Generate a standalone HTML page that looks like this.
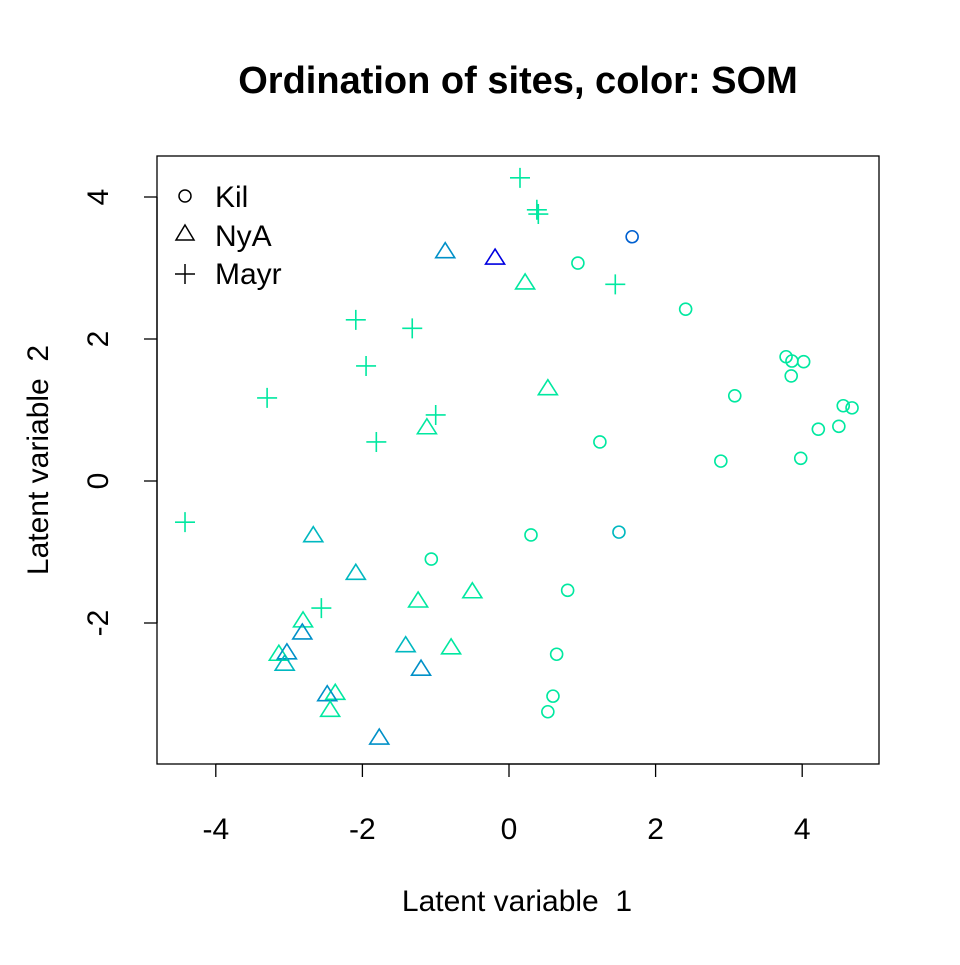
<!DOCTYPE html>
<html><head><meta charset="utf-8"><style>
body{margin:0;background:#fff}
svg text{font-family:"Liberation Sans",Arial,sans-serif;fill:#000;white-space:pre}
</style></head><body>
<svg id="c" width="960" height="960">
<rect width="960" height="960" fill="#fff"/>
<text x="518" y="93" font-size="38" font-weight="bold" text-anchor="middle">Ordination of sites, color: SOM</text>
<rect x="157" y="156" width="722" height="608" fill="none" stroke="#000" stroke-width="1.3"/>
<g id="axes"></g>
<g id="pts"></g>
<text x="517" y="911" font-size="30" text-anchor="middle">Latent variable  1</text>
<text transform="translate(48,460) rotate(-90)" font-size="30" text-anchor="middle">Latent variable  2</text>
<g>
<circle cx="185" cy="196" r="6" fill="none" stroke="#000" stroke-width="1.5"/>
<text x="215" y="207" font-size="30">Kil</text>
<path d="M185,225 L194,240 L176,240 Z" fill="none" stroke="#000" stroke-width="1.5"/>
<text x="215" y="246" font-size="30">NyA</text>
<path d="M175,274 H195 M185,264 V284" stroke="#000" stroke-width="1.5"/>
<text x="215" y="284" font-size="30">Mayr</text>
</g>
</svg>
<script>
const G="#00E8A0",T="#00B8C0",B="#0090C8",D="#0060D0",K="#0000E0";
const kilX=[1.68,0.94,2.41,3.78,3.86,4.02,3.85,3.08,4.56,4.68,4.22,4.50,1.24,3.98,2.89,1.50,0.30,-1.06,0.80,0.65,0.60,0.53];
const kilY=[3.44,3.07,2.42,1.75,1.69,1.68,1.48,1.20,1.06,1.03,0.73,0.77,0.55,0.32,0.28,-0.72,-0.76,-1.10,-1.54,-2.44,-3.03,-3.25];
const kilC=[D,G,G,G,G,G,G,G,G,G,G,G,G,G,G,T,G,G,G,G,G,G];
const nyaX=[-0.87,-0.19,0.22,0.53,-1.12,-2.67,-2.09,-1.24,-0.50,-2.81,-2.82,-3.14,-3.03,-3.06,-1.41,-0.79,-1.20,-2.37,-2.48,-2.44,-1.77];
const nyaY=[3.23,3.14,2.79,1.30,0.75,-0.77,-1.30,-1.69,-1.56,-1.97,-2.14,-2.44,-2.42,-2.58,-2.32,-2.35,-2.65,-2.99,-3.01,-3.23,-3.62];
const nyaC=[B,K,G,G,G,T,T,G,G,G,B,G,B,T,T,G,B,G,B,G,B];
const mayrX=[0.15,0.38,0.40,1.45,-2.09,-1.32,-1.95,-3.30,-1.00,-1.81,-4.42,-2.56];
const mayrY=[4.27,3.82,3.76,2.77,2.27,2.15,1.62,1.17,0.93,0.55,-0.58,-1.79];
const mayrC=[G,G,G,G,G,G,G,G,G,G,G,G];
const xTicks=[-4,-2,0,2,4], yTicks=[-2,0,2,4];
const sx=v=>509+v*73.3, sy=v=>481-v*71;
const NS="http://www.w3.org/2000/svg";
const ax=document.getElementById('axes'), pg=document.getElementById('pts');
function mk(tag,at,par){const e=document.createElementNS(NS,tag);for(const k in at)e.setAttribute(k,at[k]);par.appendChild(e);return e;}
let ln=mk('line',{x1:sx(-4),x2:sx(4),y1:764,y2:764,stroke:'#000','stroke-width':1.3},ax);


xTicks.forEach(v=>{
 const t=mk('line',{x1:sx(v),x2:sx(v),y1:764,y2:777,stroke:'#000','stroke-width':1.3},ax);
 
 
 const l=mk('text',{x:sx(v),y:839,'font-size':30,'text-anchor':'middle'},ax);l.textContent=v;
 
 
});
ln=mk('line',{x1:157,x2:157,y1:sy(-2),y2:sy(4),stroke:'#000','stroke-width':1.3},ax);


yTicks.forEach(v=>{
 const t=mk('line',{x1:144,x2:157,y1:sy(v),y2:sy(v),stroke:'#000','stroke-width':1.3},ax);
 
 
 const l=mk('text',{transform:`translate(108,${sy(v)}) rotate(-90)`,'font-size':30,'text-anchor':'middle'},ax);l.textContent=v;
 
 
});
kilX.forEach((v,i)=>{
 const e=mk('circle',{cx:sx(v),cy:sy(kilY[i]),r:6,fill:'none',stroke:kilC[i],'stroke-width':1.6},pg);
 
 
});
nyaX.forEach((v,i)=>{
 const x=sx(v),y=sy(nyaY[i]);
 const e=mk('path',{d:`M${x},${y-9} L${x+9.5},${y+6} L${x-9.5},${y+6} Z`,fill:'none',stroke:nyaC[i],'stroke-width':1.6},pg);
 
 
});
mayrX.forEach((v,i)=>{
 const x=sx(v),y=sy(mayrY[i]);
 const e=mk('path',{d:`M${x-10},${y} H${x+10} M${x},${y-10} V${y+10}`,stroke:mayrC[i],'stroke-width':1.6},pg);
 
 
});
</script>
</body></html>
